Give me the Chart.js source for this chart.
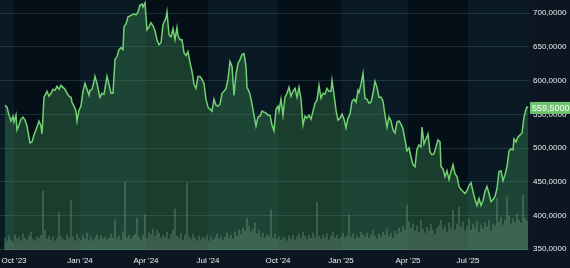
<!DOCTYPE html>
<html>
<head>
<meta charset="utf-8">
<script src="https://cdn.jsdelivr.net/npm/chart.js@4/dist/chart.umd.min.js"></script>
<style>
html, body { margin: 0; background: #0b1620; }
canvas { display: block; }
</style>
</head>
<body>
<canvas id="priceChart" width="570" height="268"></canvas>
<script>
// session index of each sampled price (roughly one unit per trading day)
let sessions = [
    5, 7, 9, 11, 13, 14, 16, 17, 19, 21,
    23, 25, 27, 30, 32, 34, 37, 39, 41, 42,
    44, 45, 47, 49, 51, 53, 55, 57, 59, 61,
    63, 65, 67, 69, 71, 72, 74, 76, 77, 79,
    81, 83, 85, 87, 89, 90, 92, 94, 95, 97,
    99, 100, 102, 104, 106, 107, 109, 111, 113, 115,
    117, 119, 121, 123, 124, 126, 128, 130, 132, 134,
    136, 138, 140, 142, 143, 145, 147, 149, 151, 153,
    155, 157, 159, 161, 163, 166, 167, 169, 171, 173,
    175, 177, 178, 180, 182, 184, 186, 188, 190, 192,
    194, 196, 198, 200, 202, 204, 206, 208, 210, 212,
    214, 216, 218, 220, 222, 224, 226, 228, 230, 232,
    234, 236, 238, 240, 242, 244, 246, 247, 248, 250,
    252, 254, 256, 258, 260, 262, 264, 266, 268, 270,
    272, 274, 276, 278, 279, 281, 283, 285, 287, 289,
    291, 293, 295, 297, 299, 301, 303, 305, 307, 309,
    311, 313, 315, 317, 319, 321, 323, 325, 327, 329,
    331, 332, 334, 336, 338, 340, 342, 344, 346, 348,
    350, 352, 354, 356, 358, 359, 361, 363, 365, 367,
    369, 371, 373, 375, 377, 379, 381, 383, 385, 387,
    389, 391, 393, 395, 397, 399, 401, 403, 405, 407,
    409, 411, 413, 415, 417, 419, 421, 422, 424, 426,
    428, 430, 432, 434, 436, 438, 440, 441, 443, 445,
    447, 449, 451, 453, 455, 457, 459, 461, 463, 465,
    467, 469, 471, 473, 475, 477, 479, 481, 483, 485,
    487, 489, 491, 493, 495, 497, 499, 501, 503, 505,
    507, 509, 511, 513, 514, 516, 518, 520, 522, 524,
    526, 527, 528
];

let prices = [
    563.5, 560.6, 548.8, 540.0, 547.3, 538.5, 548.8, 526.7, 534.1, 542.9,
    545.9, 541.4, 532.6, 507.6, 509.1, 519.4, 531.1, 540.0, 532.6, 520.8,
    575.3, 578.2, 584.1, 576.8, 581.2, 587.1, 585.6, 591.5, 587.1, 593.0,
    590.0, 587.1, 581.2, 576.8, 575.3, 567.9, 562.1, 554.7, 540.0, 556.2,
    562.1, 584.1, 595.9, 587.1, 578.2, 585.6, 587.1, 598.9, 606.2, 595.9,
    581.2, 575.3, 581.2, 579.7, 597.4, 606.2, 594.4, 581.2, 581.2, 631.2,
    635.7, 646.0, 648.9, 646.0, 679.8, 684.2, 694.6, 696.0, 697.5, 699.0,
    697.5, 701.9, 712.2, 713.7, 709.3, 715.2, 675.4, 679.8, 685.7, 681.3,
    673.9, 660.7, 653.3, 656.2, 682.8, 693.1, 701.9, 668.0, 665.1, 676.9,
    660.7, 678.4, 666.6, 660.7, 660.7, 641.5, 637.1, 643.0, 626.8, 613.6,
    594.4, 588.5, 606.2, 606.2, 601.8, 595.9, 572.4, 560.6, 557.6, 554.7,
    572.4, 563.5, 562.1, 565.0, 581.2, 584.1, 588.5, 601.8, 628.3, 620.9,
    578.2, 609.2, 625.4, 631.2, 638.6, 640.1, 620.9, 590.0, 587.1, 579.7,
    565.0, 548.8, 532.6, 545.9, 547.3, 554.7, 553.2, 551.7, 548.8, 548.8,
    534.1, 525.3, 557.6, 562.1, 554.7, 572.4, 548.8, 575.3, 581.2, 590.0,
    576.8, 584.1, 588.5, 575.3, 590.0, 572.4, 534.1, 547.3, 544.4, 548.8,
    542.9, 554.7, 566.5, 570.9, 593.0, 573.8, 581.2, 579.7, 588.5, 584.1,
    584.1, 600.3, 579.7, 556.2, 541.4, 544.4, 550.3, 542.9, 529.7, 544.4,
    550.3, 569.4, 572.4, 567.9, 585.6, 582.6, 594.4, 610.6, 573.8, 572.4,
    566.5, 567.9, 581.2, 598.9, 590.0, 575.3, 575.3, 569.4, 548.8, 531.1,
    545.9, 540.0, 526.7, 522.3, 538.5, 540.0, 535.6, 528.2, 512.0, 495.8,
    500.2, 487.0, 475.2, 472.2, 498.7, 504.6, 501.7, 531.1, 506.1, 513.5,
    520.8, 494.3, 489.9, 491.4, 501.7, 512.0, 509.1, 472.2, 469.3, 457.5,
    466.3, 453.1, 464.9, 475.2, 461.9, 457.5, 442.8, 438.4, 435.4, 432.5,
    436.9, 444.3, 448.7, 435.4, 423.7, 414.8, 425.1, 414.8, 422.2, 435.4,
    442.8, 432.5, 420.7, 423.7, 428.1, 439.9, 464.9, 466.3, 451.6, 460.5,
    472.2, 495.8, 498.7, 497.3, 513.5, 509.1, 516.4, 519.4, 522.3, 545.9,
    557.6, 560.6, 559.5
];

// volume, one bar every volStep sessions starting at volStart
let volStart = 5;
let volStep = 2;
let volumes = [
    12, 9, 14, 10, 8, 15, 11, 13, 9, 16, 12, 10, 14, 18, 11, 9, 13, 12, 15, 59,
    20, 11, 14, 10, 13, 9, 12, 38, 14, 11, 10, 15, 12, 50, 13, 9, 16, 12, 10, 14,
    11, 17, 10, 13, 9, 12, 15, 10, 14, 11, 13, 10, 12, 16, 12, 30, 11, 14, 10, 18,
    68, 12, 15, 11, 14, 16, 32, 13, 10, 15, 35, 12, 18, 16, 21, 14, 20, 17, 12, 15,
    13, 18, 11, 16, 20, 41, 14, 12, 17, 10, 15, 67, 13, 11, 16, 12, 9, 14, 10, 13,
    11, 15, 9, 13, 10, 12, 16, 11, 14, 10, 13, 17, 12, 15, 11, 18, 14, 20, 16, 22,
    19, 32, 24, 18, 21, 27, 16, 20, 13, 17, 12, 15, 14, 40, 12, 16, 11, 14, 10, 13,
    12, 9, 14, 11, 15, 10, 13, 16, 12, 18, 14, 11, 15, 12, 17, 13, 48, 14, 11, 15,
    12, 16, 10, 14, 18, 12, 15, 11, 13, 17, 12, 14, 35, 13, 16, 11, 14, 12, 18, 15,
    13, 17, 12, 15, 20, 14, 11, 16, 13, 18, 15, 21, 14, 17, 12, 19, 16, 22, 18, 24,
    20, 45, 28, 22, 26, 19, 24, 18, 30, 21, 17, 23, 19, 26, 20, 16, 22, 25, 30, 21,
    24, 18, 27, 22, 40, 20, 26, 43, 23, 28, 19, 24, 31, 20, 26, 22, 29, 18, 25, 21,
    27, 23, 30, 19, 26, 24, 52, 28, 33, 25, 30, 53, 34, 26, 31, 28, 36, 30, 27, 55,
    32, 29
];

let quarterAt = [14, 80, 146, 208, 278, 341, 408, 468];
let quarterLabels = ["Oct '23", "Jan '24", "Apr '24", "Jul '24", "Oct '24", "Jan '25", "Apr '25", "Jul '25"];
let priceTicks = [350, 400, 450, 500, 550, 600, 650, 700];

let linePoints = sessions.map((s, i) => ({ x: s, y: prices[i] }));
let volumePoints = volumes.map((v, i) => ({ x: volStart + i * volStep, y: v }));

function formatPrice(v) {
    return v.toFixed(4).replace('.', ',');
}

// alternating quarter bands behind the plot
let bandsPlugin = {
    id: 'bands',
    beforeDraw(chart) {
        let ctx = chart.ctx;
        let area = chart.chartArea;
        let xScale = chart.scales.x;
        ctx.save();
        ctx.fillStyle = '#0b1620';
        ctx.fillRect(0, 0, chart.width, chart.height);
        let edges = [area.left].concat(quarterAt.map(q => xScale.getPixelForValue(q)), [area.right]);
        for (let k = 0; k < edges.length - 1; k++) {
            ctx.fillStyle = (k % 2 === 0) ? '#0a1a25' : '#050f18';
            ctx.fillRect(edges[k], area.top, edges[k + 1] - edges[k], area.bottom - area.top);
        }
        ctx.restore();
    }
};

// last price tag on the right axis
let lastPricePlugin = {
    id: 'lastPrice',
    afterDraw(chart) {
        let ctx = chart.ctx;
        let last = prices[prices.length - 1];
        let y = chart.scales.y.getPixelForValue(last);
        let left = chart.chartArea.right + 1;
        ctx.save();
        ctx.fillStyle = '#6cc46c';
        ctx.fillRect(left, y - 6, chart.width - left, 12);
        ctx.fillStyle = '#ffffff';
        ctx.font = '9px "Liberation Sans", Arial, sans-serif';
        ctx.textBaseline = 'middle';
        ctx.textAlign = 'left';
        ctx.fillText(formatPrice(last), left + 2, y + 0.5);
        ctx.restore();
    }
};

let ctx = document.getElementById('priceChart').getContext('2d');
new Chart(ctx, {
    data: {
        datasets: [{
            type: 'line',
            label: 'Price',
            data: linePoints,
            borderColor: '#72d272',
            borderWidth: 1.5,
            backgroundColor: 'rgba(75, 170, 95, 0.3)',
            fill: 'start',
            pointRadius: 0,
            tension: 0,
            order: 2
        }, {
            type: 'bar',
            label: 'Volume',
            data: volumePoints,
            yAxisID: 'vol',
            backgroundColor: 'rgba(160, 195, 170, 0.3)',
            barThickness: 1,
            order: 1
        }]
    },
    options: {
        responsive: false,
        animation: false,
        devicePixelRatio: 1,
        layout: { padding: 0 },
        plugins: {
            legend: { display: false },
            tooltip: { enabled: false }
        },
        scales: {
            x: {
                type: 'linear',
                min: 0,
                max: 529,
                offset: false,
                grid: { display: false, drawTicks: false },
                border: { display: false },
                afterFit(scale) {
                    scale.height = 18;
                    scale.paddingLeft = 0;
                    scale.paddingRight = 0;
                },
                afterBuildTicks(scale) {
                    scale.ticks = quarterAt.map(q => ({ value: q }));
                },
                ticks: {
                    autoSkip: false,
                    maxRotation: 0,
                    padding: 6,
                    color: '#e8ebf0',
                    font: { family: '"Liberation Sans", Arial, sans-serif', size: 8 },
                    callback: (value) => quarterLabels[quarterAt.indexOf(value)]
                }
            },
            y: {
                type: 'linear',
                position: 'right',
                min: 348.7,
                max: 719.6,
                z: 1,
                grid: { color: 'rgba(110, 150, 180, 0.22)', drawTicks: false },
                border: { display: false },
                afterFit(scale) {
                    scale.width = 41;
                    scale.paddingTop = 0;
                    scale.paddingBottom = 0;
                },
                afterBuildTicks(scale) {
                    scale.ticks = priceTicks.map(v => ({ value: v }));
                },
                ticks: {
                    padding: 4,
                    color: '#e8ebf0',
                    font: { family: '"Liberation Sans", Arial, sans-serif', size: 8 },
                    callback: (value) => formatPrice(value)
                }
            },
            vol: {
                type: 'linear',
                display: false,
                min: 0,
                max: 250
            }
        }
    },
    plugins: [bandsPlugin, lastPricePlugin]
});
</script>
</body>
</html>
